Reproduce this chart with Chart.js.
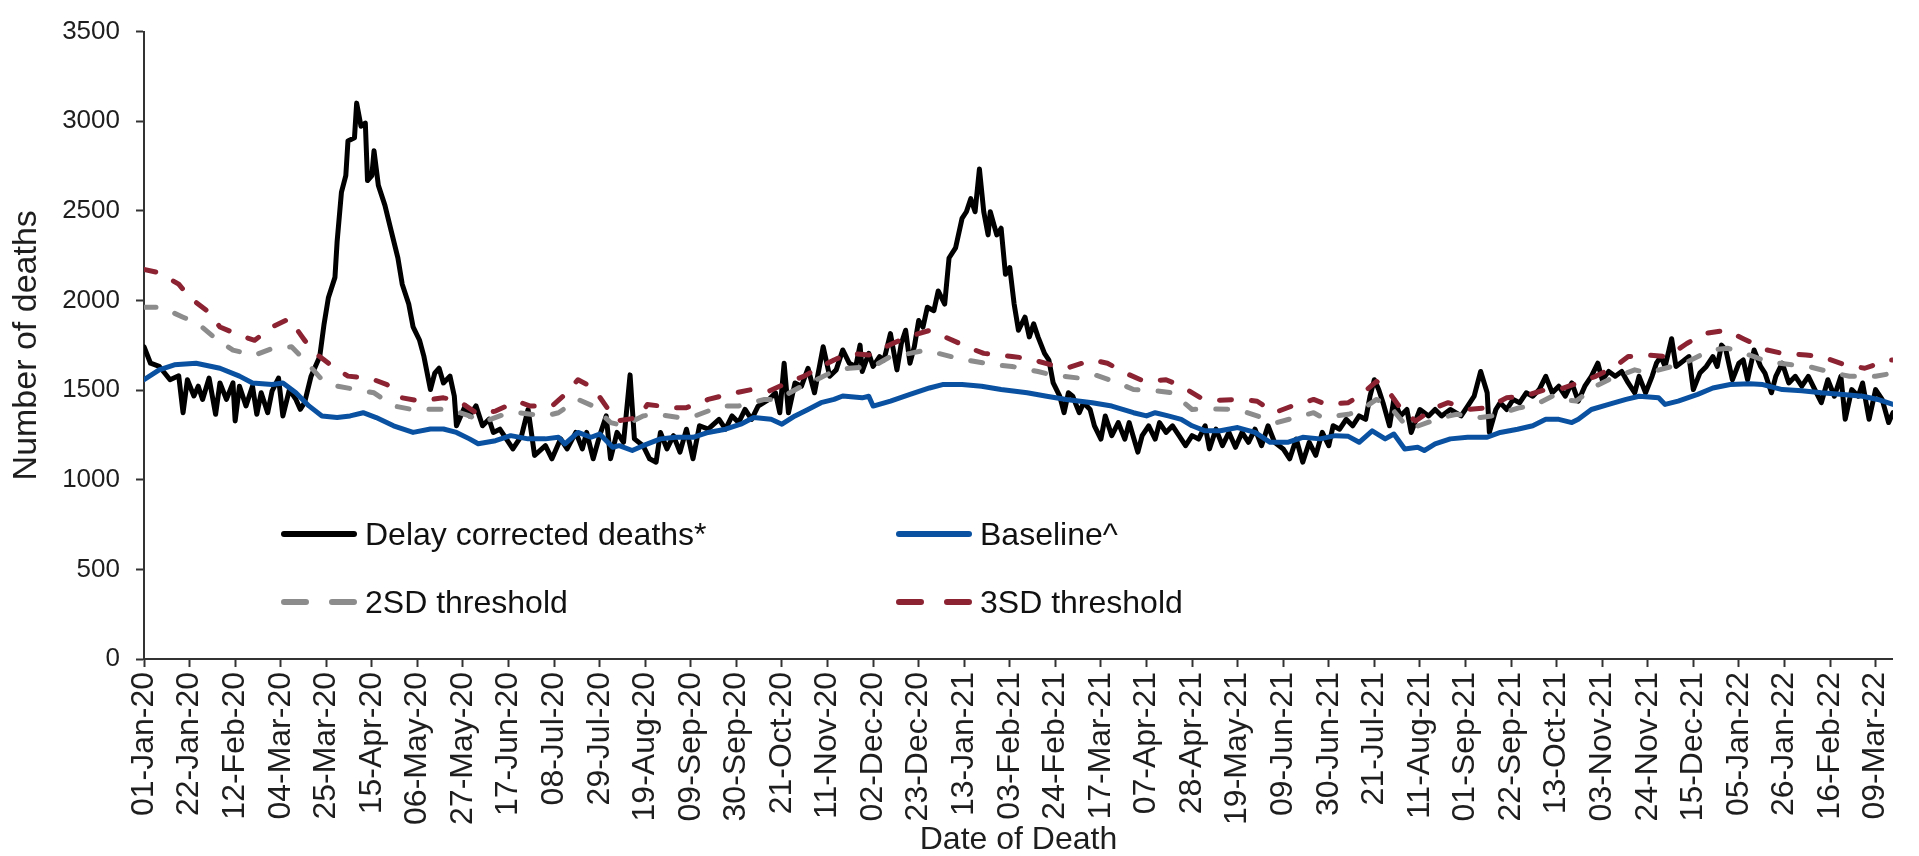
<!DOCTYPE html>
<html>
<head>
<meta charset="utf-8">
<title>Delay corrected deaths</title>
<script src="https://cdn.jsdelivr.net/npm/chart.js@4.4.1/dist/chart.umd.min.js"></script>
<style>
  html, body { margin: 0; padding: 0; background: #fff; overflow: hidden; }
  #wrap { position: relative; width: 1919px; height: 856px; }
  #legend .item {
    position: absolute; display: flex; align-items: center; height: 40px;
    font: 32px "Liberation Sans", Arial, sans-serif; color: #111; white-space: nowrap;
  }
  #legend svg { margin-right: 8px; }
</style>
</head>
<body>
<div id="wrap">
  <canvas id="chart" width="1919" height="856"></canvas>
  <div id="legend"></div>
</div>
<script>
// x tick labels, one every 21 days from 01-Jan-20
const tickLabels = [
  "01-Jan-20", "22-Jan-20", "12-Feb-20", "04-Mar-20", "25-Mar-20", "15-Apr-20", "06-May-20",
  "27-May-20", "17-Jun-20", "08-Jul-20", "29-Jul-20", "19-Aug-20", "09-Sep-20", "30-Sep-20",
  "21-Oct-20", "11-Nov-20", "02-Dec-20", "23-Dec-20", "13-Jan-21", "03-Feb-21", "24-Feb-21",
  "17-Mar-21", "07-Apr-21", "28-Apr-21", "19-May-21", "09-Jun-21", "30-Jun-21", "21-Jul-21",
  "11-Aug-21", "01-Sep-21", "22-Sep-21", "13-Oct-21", "03-Nov-21", "24-Nov-21", "15-Dec-21",
  "05-Jan-22", "26-Jan-22", "16-Feb-22", "09-Mar-22"
];
const tickStep = 21;
const lastDay = 806;

// [day since 01-Jan-20, deaths]
const deaths = [
  [0,1742],[3,1650],[7,1633],[12,1558],[16,1580],[18,1374],[20,1558],[23,1467],[25,1522],[27,1448],
  [30,1567],[33,1365],[35,1540],[38,1448],[41,1540],[42,1328],[44,1522],[47,1412],[50,1522],[52,1365],
  [54,1485],[57,1374],[59,1494],[62,1567],[64,1356],[67,1503],[70,1448],[72,1393],[74,1430],[77,1578],
  [81,1688],[83,1870],[85,2017],[88,2129],[89,2329],[91,2605],[93,2697],[94,2890],[97,2908],[98,3101],
  [100,2972],[102,2990],[103,2669],[105,2697],[106,2835],[108,2642],[111,2532],[114,2384],[117,2238],[119,2091],
  [122,1980],[124,1853],[127,1778],[129,1688],[132,1503],[134,1595],[136,1622],[138,1540],[141,1578],[143,1467],
  [144,1301],[148,1412],[150,1356],[153,1412],[156,1301],[159,1338],[161,1264],[164,1282],[170,1172],[174,1246],
  [177,1392],[180,1136],[185,1190],[188,1117],[192,1228],[195,1172],[199,1264],[202,1172],[204,1264],[207,1117],
  [210,1246],[213,1356],[215,1117],[218,1264],[221,1209],[224,1585],[226,1228],[230,1190],[233,1117],[236,1098],
  [238,1264],[241,1172],[244,1246],[247,1154],[250,1282],[253,1117],[256,1301],[260,1282],[265,1337],[268,1282],
  [271,1356],[274,1319],[277,1392],[280,1337],[283,1411],[288,1448],[291,1485],[293,1374],[295,1650],[297,1374],
  [300,1540],[303,1522],[306,1622],[309,1485],[313,1742],[316,1577],[319,1613],[322,1724],[325,1650],[328,1632],
  [330,1751],[331,1604],[334,1705],[336,1632],[339,1687],[341,1668],[344,1815],[347,1613],[349,1760],[351,1834],
  [353,1650],[355,1742],[357,1888],[359,1852],[361,1962],[364,1943],[366,2053],[369,1980],[371,2237],[374,2293],
  [377,2458],[379,2495],[381,2568],[383,2495],[385,2734],[387,2495],[389,2366],[390,2495],[393,2366],[395,2403],
  [397,2146],[399,2183],[401,1980],[403,1834],[406,1907],[408,1797],[410,1870],[412,1797],[415,1705],[417,1668],
  [419,1540],[422,1466],[424,1374],[426,1485],[428,1466],[431,1374],[433,1430],[436,1392],[438,1301],[441,1227],
  [443,1356],[446,1246],[449,1319],[452,1227],[454,1319],[458,1154],[460,1246],[463,1301],[466,1227],[468,1319],
  [471,1264],[474,1301],[477,1246],[480,1190],[483,1246],[486,1227],[489,1301],[491,1172],[494,1282],[497,1190],
  [500,1264],[503,1181],[506,1264],[509,1209],[512,1282],[515,1190],[518,1301],[521,1209],[525,1172],[528,1117],
  [531,1227],[534,1098],[537,1209],[540,1136],[543,1264],[546,1190],[548,1301],[551,1282],[554,1337],[557,1301],
  [560,1356],[563,1337],[565,1466],[567,1558],[569,1503],[571,1430],[574,1301],[576,1448],[579,1356],[582,1392],
  [584,1264],[588,1392],[592,1356],[595,1392],[598,1356],[602,1392],[607,1356],[610,1411],[613,1466],[616,1604],
  [619,1485],[620,1264],[623,1392],[625,1430],[628,1392],[631,1448],[634,1430],[637,1485],[640,1466],[643,1503],
  [646,1577],[649,1485],[652,1522],[655,1466],[658,1540],[661,1439],[664,1522],[667,1577],[670,1650],[672,1558],
  [675,1604],[678,1577],[681,1604],[684,1540],[687,1485],[689,1577],[692,1485],[695,1577],[697,1650],[699,1687],
  [701,1632],[704,1787],[706,1632],[708,1650],[712,1687],[714,1503],[717,1595],[720,1632],[723,1687],[725,1632],
  [727,1751],[729,1724],[732,1558],[735,1650],[737,1668],[739,1558],[742,1724],[745,1632],[747,1595],[750,1485],
  [752,1577],[755,1650],[758,1540],[761,1577],[764,1522],[767,1577],[770,1503],[773,1430],[776,1558],[779,1466],
  [782,1577],[784,1337],[787,1503],[790,1466],[792,1540],[795,1337],[798,1503],[801,1448],[804,1319],[806,1374]
];

const baseline = [
  [0,1558],[7,1613],[14,1641],[24,1650],[35,1622],[44,1578],[50,1540],[59,1531],[64,1540],[70,1485],
  [76,1412],[82,1356],[89,1347],[95,1356],[101,1374],[107,1347],[115,1301],[124,1264],[132,1283],[138,1283],
  [144,1264],[150,1228],[154,1201],[162,1218],[169,1246],[177,1228],[185,1228],[191,1237],[194,1200],[200,1264],
  [206,1237],[210,1255],[216,1181],[219,1190],[225,1163],[230,1190],[238,1228],[245,1237],[253,1237],[260,1264],
  [268,1282],[275,1310],[281,1347],[289,1337],[294,1310],[300,1356],[306,1392],[312,1430],[318,1448],[322,1467],
  [331,1457],[334,1466],[336,1411],[344,1439],[353,1476],[362,1512],[368,1531],[377,1531],[386,1522],[395,1503],
  [407,1485],[416,1466],[425,1448],[437,1430],[446,1411],[456,1374],[462,1356],[466,1374],[472,1356],[478,1337],
  [483,1301],[489,1273],[496,1273],[504,1291],[512,1264],[519,1209],[527,1209],[534,1237],[542,1228],[549,1246],
  [555,1242],[560,1209],[566,1273],[572,1228],[576,1255],[581,1172],[587,1181],[590,1163],[595,1200],[602,1228],
  [610,1237],[619,1237],[625,1264],[633,1282],[640,1301],[646,1337],[652,1337],[658,1319],[661,1337],[667,1392],
  [675,1420],[683,1448],[689,1466],[698,1457],[701,1420],[707,1439],[716,1476],[723,1512],[731,1531],[740,1536],
  [746,1531],[755,1503],[764,1497],[773,1485],[783,1476],[792,1466],[799,1448],[806,1420]
];

const sd2 = [
  [0,1962],[8,1962],[18,1907],[25,1870],[34,1778],[41,1723],[51,1695],[59,1732],[68,1742],[74,1668],
  [82,1558],[89,1522],[98,1503],[106,1485],[115,1412],[123,1393],[132,1393],[141,1393],[150,1356],[156,1320],
  [166,1365],[172,1374],[185,1356],[191,1374],[200,1448],[207,1411],[215,1319],[221,1301],[230,1356],[236,1365],
  [247,1347],[254,1356],[266,1411],[274,1411],[286,1448],[292,1448],[303,1521],[307,1540],[319,1613],[325,1622],
  [336,1632],[344,1687],[353,1705],[360,1723],[372,1687],[379,1668],[392,1641],[400,1632],[412,1604],[418,1586],
  [431,1567],[438,1586],[449,1540],[456,1503],[468,1494],[474,1485],[483,1392],[489,1395],[504,1392],[522,1319],
  [539,1374],[543,1347],[555,1365],[560,1383],[568,1448],[574,1411],[583,1282],[598,1347],[605,1365],[616,1347],
  [621,1356],[634,1402],[640,1411],[649,1466],[652,1448],[660,1439],[669,1522],[675,1558],[687,1613],[693,1595],
  [704,1632],[710,1650],[722,1724],[730,1733],[742,1687],[748,1659],[760,1641],[767,1632],[779,1595],[786,1577],
  [798,1577],[806,1595]
];

const sd3 = [
  [0,2173],[7,2155],[16,2091],[21,2017],[29,1943],[35,1852],[44,1806],[51,1778],[59,1852],[67,1898],
  [74,1778],[80,1696],[88,1622],[94,1578],[104,1567],[112,1531],[119,1457],[127,1439],[138,1457],[145,1439],
  [154,1365],[162,1383],[172,1438],[178,1411],[188,1411],[194,1476],[200,1558],[207,1513],[214,1392],[218,1328],
  [228,1347],[232,1420],[244,1402],[250,1402],[260,1448],[269,1476],[280,1503],[288,1494],[298,1549],[304,1577],
  [312,1631],[318,1668],[325,1705],[334,1696],[345,1760],[352,1797],[362,1833],[369,1797],[381,1733],[387,1705],
  [400,1687],[407,1678],[418,1641],[425,1622],[437,1668],[444,1650],[454,1586],[461,1549],[471,1558],[478,1522],
  [487,1457],[494,1443],[506,1448],[513,1438],[521,1374],[529,1411],[539,1448],[545,1420],[555,1430],[560,1466],
  [568,1549],[574,1485],[580,1383],[586,1328],[595,1402],[601,1430],[610,1392],[619,1402],[628,1457],[636,1466],
  [646,1503],[652,1503],[663,1549],[669,1577],[678,1632],[684,1687],[693,1696],[702,1687],[711,1760],[719,1815],
  [729,1834],[737,1787],[748,1724],[755,1705],[766,1696],[773,1687],[784,1641],[793,1622],[804,1668],[806,1668]
];

const seriesNames = ["Delay corrected deaths*", "Baseline^", "2SD threshold", "3SD threshold"];
const seriesData = [deaths, baseline, sd2, sd3];
const seriesColors = ["#000000", "#0a52a1", "#8c8c8c", "#8b2333"];
const seriesDashed = [false, false, true, true];

const family = '"Liberation Sans", Arial, sans-serif';
const textColor = "#1e1e1e";
const axisColor = "#333";

const datasets = seriesNames.map((name, i) => ({
  label: name,
  data: seriesData[i].map(([x, y]) => ({ x, y })),
  borderColor: seriesColors[i],
  borderWidth: 5,
  borderDash: seriesDashed[i] ? [12, 20] : [],
  borderCapStyle: "round",
  borderJoinStyle: "round",
  pointRadius: 0,
  tension: 0,
  fill: false,
  order: seriesNames.length - i // later series on top, like the original
}));

const ctx = document.getElementById("chart").getContext("2d");
const chart = new Chart(ctx, {
  type: "line",
  data: { datasets },
  options: {
    responsive: false,
    animation: false,
    devicePixelRatio: 1,
    layout: { padding: { left: 10, top: 24, right: 0, bottom: 0 } },
    plugins: { legend: { display: false }, tooltip: { enabled: false } },
    scales: {
      x: {
        type: "linear",
        min: 0,
        max: lastDay,
        afterBuildTicks: (scale) => {
          scale.ticks = tickLabels.map((_, i) => ({ value: i * tickStep }));
        },
        afterFit: (scale) => { scale.height = 197; },
        ticks: {
          autoSkip: false,
          minRotation: 90,
          maxRotation: 90,
          padding: 5,
          color: textColor,
          font: { family, size: 32 },
          callback: (v) => tickLabels[Math.round(v / tickStep)]
        },
        grid: { drawOnChartArea: false, drawTicks: true, tickLength: 8, tickColor: axisColor, tickWidth: 2 },
        border: { color: axisColor, width: 2 },
        title: { display: true, text: "Date of Death", color: textColor, font: { family, size: 32, lineHeight: 1 }, padding: 0 }
      },
      y: {
        min: 0,
        max: 3500,
        afterFit: (scale) => { scale.width = 134; },
        ticks: {
          stepSize: 500,
          padding: 16,
          color: textColor,
          font: { family, size: 26 },
          callback: (v) => String(v)
        },
        grid: { drawOnChartArea: false, drawTicks: true, tickLength: 8, tickColor: axisColor, tickWidth: 2 },
        border: { color: axisColor, width: 2 },
        title: { display: true, text: "Number of deaths", color: textColor, font: { family, size: 34, lineHeight: 1 }, padding: 0 }
      }
    }
  }
});

// legend drawn as html over the chart, 2 columns x 2 rows
const legendCols = [281, 896];
const legendRows = [534, 602];
const legend = document.getElementById("legend");
chart.data.datasets.forEach((ds, i) => {
  const item = document.createElement("div");
  item.className = "item";
  item.style.left = legendCols[i % 2] + "px";
  item.style.top = (legendRows[Math.floor(i / 2)] - 20) + "px";
  const dash = ds.borderDash.length ? ' stroke-dasharray="22 26"' : "";
  item.innerHTML =
    '<svg width="76" height="10"><line x1="3" y1="5" x2="73" y2="5" stroke="' + ds.borderColor +
    '" stroke-width="6" stroke-linecap="round"' + dash + '/></svg><span>' + ds.label + "</span>";
  legend.appendChild(item);
});
</script>
</body>
</html>
